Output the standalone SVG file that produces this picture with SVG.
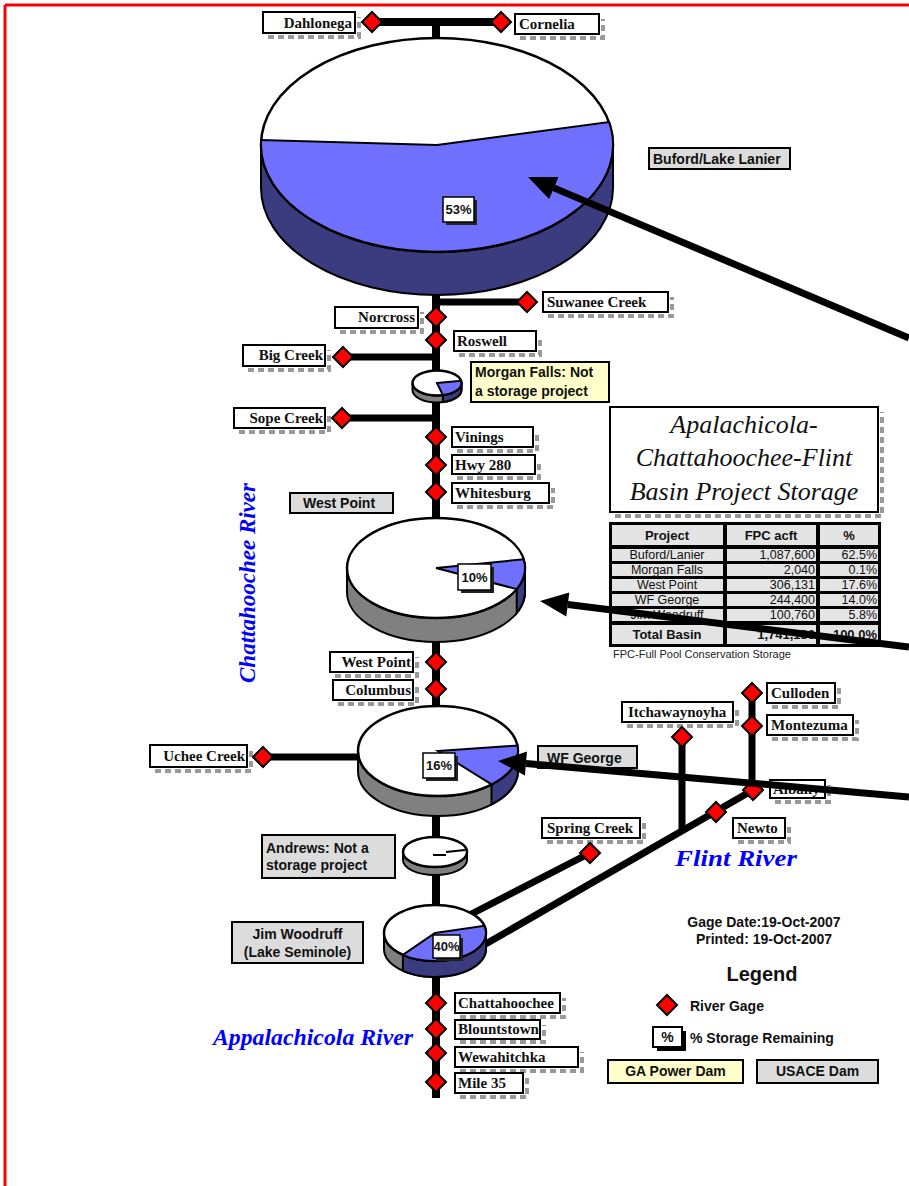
<svg xmlns="http://www.w3.org/2000/svg" xmlns:xlink="http://www.w3.org/1999/xlink" width="909" height="1186" viewBox="0 0 909 1186">
<style>
.lbl{fill:#fff;stroke:#000;stroke-width:2}
.shd{fill:none;stroke:#999;stroke-width:4;stroke-dasharray:6 4}
.dam{fill:#dcdcdc;stroke:#000;stroke-width:2}
.pw{fill:#ffffcc;stroke:#000;stroke-width:2}
.gt{font-family:"Liberation Serif","Times New Roman",serif;font-weight:bold;font-size:15px;fill:#111}
.st{font-family:"Liberation Sans",Arial,sans-serif;font-weight:bold;font-size:14px;fill:#111}
.riv{stroke:#000;stroke-width:8;fill:none}
.br{stroke:#000;stroke-width:7;fill:none}
.arr{stroke:#000;stroke-width:7;fill:none}
.ah{fill:#000}
.side{fill:#808080;stroke:#000;stroke-width:2}
.dside{fill:#3b3b80;stroke:#000;stroke-width:2}
.top{fill:#fff;stroke:#000;stroke-width:2.5}
.wedge{fill:#7070ff;stroke:#000;stroke-width:2}
.pbox{fill:#fff;stroke:#000;stroke-width:1.5}
.pshd{fill:#222}
.pt{font-family:"Liberation Sans",Arial,sans-serif;font-weight:bold;font-size:13px;fill:#111;text-anchor:middle}
.rn{font-family:"Liberation Serif","Times New Roman",serif;font-weight:bold;font-style:italic;fill:#0000ff}
.cell{fill:#e4e4e4;stroke:#000;stroke-width:1}
.tt{font-family:"Liberation Sans",Arial,sans-serif;font-size:12.5px;fill:#111}
.tb{font-family:"Liberation Sans",Arial,sans-serif;font-size:13px;font-weight:bold;fill:#111}
.title{font-family:"Liberation Serif","Times New Roman",serif;font-style:italic;font-size:26px;fill:#111;text-anchor:middle}
</style>
<defs>
<path id="dm" d="M0,-10 L10,0 L0,10 L-10,0 Z" fill="#ff0000" stroke="#000" stroke-width="2"/>
</defs>
<rect x="0" y="0" width="909" height="1186" fill="#fff"/>
<g id="border">
<line x1="5" y1="5" x2="909" y2="5" stroke="#ff0000" stroke-width="3"/>
<line x1="5" y1="5" x2="5" y2="1186" stroke="#ff0000" stroke-width="3"/>
</g>

<g id="connectors">
<path class="riv" d="M436,22 V1098"/>
<path class="riv" d="M372,22 H501"/>
<path class="br" d="M436,302 H527"/>
<path class="br" d="M343,357 H436"/>
<path class="br" d="M342,418 H436"/>
<path class="br" d="M263,757 H370"/>
<path class="br" d="M682,737 V831"/>
<path class="br" d="M752,693 V790"/>
<path class="br" d="M753,790 L470,953"/>
<path class="br" d="M590,853 L450,925"/>
</g>

<g id="river-names">
<text class="rn" font-size="24" transform="translate(255,583) rotate(-90)" text-anchor="middle" textLength="200" lengthAdjust="spacingAndGlyphs">Chattahoochee River</text>
<text class="rn" font-size="24" x="675" y="866" textLength="122" lengthAdjust="spacingAndGlyphs">Flint River</text>
<text class="rn" font-size="24" x="213" y="1045" textLength="200" lengthAdjust="spacingAndGlyphs">Appalachicola River</text>
</g>

<!-- Gages -->
<g id="g-dahlonega"><path class="shd" d="M268,37 H359 V17"/><rect class="lbl" x="263" y="12" width="92" height="21"/><text class="gt" x="352" y="28" text-anchor="end">Dahlonega</text><use xlink:href="#dm" x="372" y="22"/></g>
<g id="g-cornelia"><path class="shd" d="M520,38 H603 V19"/><rect class="lbl" x="515" y="14" width="84" height="20"/><text class="gt" x="519" y="29">Cornelia</text><use xlink:href="#dm" x="501" y="22"/></g>
<g id="g-suwanee"><path class="shd" d="M548,316 H672 V297"/><rect class="lbl" x="543" y="292" width="125" height="20"/><text class="gt" x="547" y="307">Suwanee Creek</text><use xlink:href="#dm" x="527" y="302"/></g>
<g id="g-norcross"><path class="shd" d="M340,332 H422 V312"/><rect class="lbl" x="335" y="307" width="83" height="21"/><text class="gt" x="415" y="322" text-anchor="end">Norcross</text><use xlink:href="#dm" x="436" y="317"/></g>
<g id="g-roswell"><path class="shd" d="M459,355 H540 V336"/><rect class="lbl" x="454" y="331" width="82" height="20"/><text class="gt" x="457" y="346">Roswell</text><use xlink:href="#dm" x="436" y="340"/></g>
<g id="g-bigcreek"><path class="shd" d="M248,370 H329 V350"/><rect class="lbl" x="243" y="345" width="82" height="21"/><text class="gt" x="323" y="360" text-anchor="end">Big Creek</text><use xlink:href="#dm" x="343" y="357"/></g>
<g id="g-sopecreek"><path class="shd" d="M239,432 H329 V413"/><rect class="lbl" x="234" y="408" width="91" height="20"/><text class="gt" x="323" y="423" text-anchor="end">Sope Creek</text><use xlink:href="#dm" x="342" y="418"/></g>
<g id="g-vinings"><path class="shd" d="M457,451 H537 V432"/><rect class="lbl" x="452" y="427" width="81" height="20"/><text class="gt" x="455" y="442">Vinings</text><use xlink:href="#dm" x="436" y="437"/></g>
<g id="g-hwy280"><path class="shd" d="M457,478 H539 V460"/><rect class="lbl" x="452" y="455" width="83" height="19"/><text class="gt" x="455" y="470">Hwy 280</text><use xlink:href="#dm" x="436" y="465"/></g>
<g id="g-whitesburg"><path class="shd" d="M457,507 H553 V488"/><rect class="lbl" x="452" y="483" width="97" height="20"/><text class="gt" x="455" y="498">Whitesburg</text><use xlink:href="#dm" x="436" y="492"/></g>
<g id="g-westpoint"><path class="shd" d="M335,676 H417 V657"/><rect class="lbl" x="330" y="652" width="83" height="20"/><text class="gt" x="411" y="667" text-anchor="end">West Point</text><use xlink:href="#dm" x="436" y="662"/></g>
<g id="g-columbus"><path class="shd" d="M338,704 H417 V685"/><rect class="lbl" x="333" y="680" width="80" height="20"/><text class="gt" x="411" y="695" text-anchor="end">Columbus</text><use xlink:href="#dm" x="436" y="689"/></g>
<g id="g-uchee"><path class="shd" d="M155,771 H251 V750"/><rect class="lbl" x="150" y="745" width="97" height="22"/><text class="gt" x="245" y="761" text-anchor="end">Uchee Creek</text><use xlink:href="#dm" x="263" y="757"/></g>
<g id="g-itchawaynoyha"><path class="shd" d="M627,726 H737 V707"/><rect class="lbl" x="622" y="702" width="111" height="20"/><text class="gt" x="628" y="717">Itchawaynoyha</text><use xlink:href="#dm" x="682" y="737"/></g>
<g id="g-culloden"><path class="shd" d="M772,707 H839 V688"/><rect class="lbl" x="767" y="683" width="68" height="20"/><text class="gt" x="771" y="698">Culloden</text><use xlink:href="#dm" x="752" y="693"/></g>
<g id="g-montezuma"><path class="shd" d="M772,739 H857 V720"/><rect class="lbl" x="767" y="715" width="86" height="20"/><text class="gt" x="771" y="730">Montezuma</text><use xlink:href="#dm" x="752" y="726"/></g>
<g id="g-albany"><path class="shd" d="M775,802 H829 V785"/><rect class="lbl" x="770" y="780" width="55" height="18"/><text class="gt" x="773" y="794">Albany</text><use xlink:href="#dm" x="753" y="790"/></g>
<g id="g-newton"><path class="shd" d="M738,842 H789 V823"/><rect class="lbl" x="733" y="818" width="52" height="20"/><text class="gt" x="737" y="833">Newto</text><use xlink:href="#dm" x="716" y="812"/></g>
<g id="g-springcreek"><path class="shd" d="M547,842 H644 V823"/><rect class="lbl" x="542" y="818" width="98" height="20"/><text class="gt" x="547" y="833">Spring Creek</text><use xlink:href="#dm" x="590" y="853"/></g>
<g id="g-chattahoochee"><path class="shd" d="M460,1017 H564 V998"/><rect class="lbl" x="455" y="993" width="105" height="20"/><text class="gt" x="458" y="1008">Chattahoochee</text><use xlink:href="#dm" x="436" y="1003"/></g>
<g id="g-blountstown"><path class="shd" d="M460,1042 H544 V1025"/><rect class="lbl" x="455" y="1020" width="85" height="19"/><text class="gt" x="458" y="1034">Blountstown</text><use xlink:href="#dm" x="436" y="1029"/></g>
<g id="g-wewahitchka"><path class="shd" d="M460,1071 H582 V1052"/><rect class="lbl" x="455" y="1047" width="123" height="20"/><text class="gt" x="458" y="1062">Wewahitchka</text><use xlink:href="#dm" x="436" y="1053"/></g>
<g id="g-mile35"><path class="shd" d="M460,1097 H527 V1078"/><rect class="lbl" x="455" y="1073" width="68" height="20"/><text class="gt" x="458" y="1088">Mile 35</text><use xlink:href="#dm" x="436" y="1082"/></g>

<!-- Dams -->
<g id="d-lanier">
<path class="dside" d="M261,145 A176,107 0 0 0 613,145 L613,188 A176,107 0 0 1 261,188 Z"/>
<ellipse class="top" cx="437" cy="145" rx="176" ry="107"/>
<path class="wedge" d="M437,145 L609,122 A176,107 0 1 1 261.2,140 Z"/>
<rect class="pshd" x="446" y="200" width="31" height="25"/><rect class="pbox" x="443" y="197" width="31" height="25"/><text class="pt" x="458.5" y="214">53%</text>
<rect class="dam" x="649" y="148" width="141" height="21"/><text class="st" x="653" y="164">Buford/Lake Lanier</text>
</g>
<g id="d-morganfalls">
<path class="side" d="M412.5,383 A24.5,12.5 0 0 0 461.5,383 L461.5,390 A24.5,12.5 0 0 1 412.5,390 Z"/>
<path class="dside" d="M461.5,383 A24.5,12.5 0 0 1 442.9,395.1 L442.9,402.1 A24.5,12.5 0 0 0 461.5,390 Z"/>
<ellipse class="top" cx="437" cy="383" rx="24.5" ry="12.5"/>
<path class="wedge" d="M437,383 L461.1,380.8 A24.5,12.5 0 0 1 442.9,395.1 Z"/>
<rect class="pw" x="471" y="362" width="138" height="40"/><text class="st" x="475" y="377">Morgan Falls: Not</text><text class="st" x="475" y="396">a storage project</text>
</g>
<g id="d-westpoint">
<path class="side" d="M347,568 A89,50 0 0 0 525,568 L525,592 A89,50 0 0 1 347,592 Z"/>
<path class="dside" d="M525,568 A89,50 0 0 1 516.7,589.1 L516.7,613.1 A89,50 0 0 0 525,592 Z"/>
<ellipse class="top" cx="436" cy="568" rx="89" ry="50"/>
<path class="wedge" d="M436,568 L523.6,559.3 A89,50 0 0 1 516.7,589.1 Z"/>
<rect class="pshd" x="461" y="567" width="33" height="26"/><rect class="pbox" x="458" y="564" width="33" height="26"/><text class="pt" x="474.5" y="582">10%</text>
<rect class="dam" x="290" y="493" width="103" height="20"/><text class="st" x="303" y="508">West Point</text>
</g>
<g id="d-wfgeorge">
<path class="side" d="M358,751 A80,45 0 0 0 518,751 L518,771 A80,45 0 0 1 358,771 Z"/>
<path class="dside" d="M518,751 A80,45 0 0 1 491.5,784.4 L491.5,804.4 A80,45 0 0 0 518,771 Z"/>
<ellipse class="top" cx="438" cy="751" rx="80" ry="45"/>
<path class="wedge" d="M438,751 L517.4,745.5 A80,45 0 0 1 491.5,784.4 Z"/>
<rect class="pshd" x="426" y="756" width="32" height="25"/><rect class="pbox" x="423" y="753" width="32" height="25"/><text class="pt" x="439" y="770">16%</text>
<rect class="dam" x="538" y="746" width="99" height="22"/><text class="st" x="547" y="763">WF George</text>
</g>
<g id="d-andrews">
<path class="side" d="M403,852 A32,15 0 0 0 467,852 L467,860 A32,15 0 0 1 403,860 Z"/>
<ellipse class="top" cx="435" cy="852" rx="32" ry="15"/>
<path d="M433,855 L446,855 M446,852 L465,850" stroke="#000" stroke-width="2" fill="none"/>
<rect class="dam" x="262" y="835" width="133" height="43"/><text class="st" x="266" y="853">Andrews: Not a</text><text class="st" x="266" y="870">storage project</text>
</g>
<g id="d-jimwoodruff">
<path class="side" d="M384,933 A51,28 0 0 0 486,933 L486,949 A51,28 0 0 1 384,949 Z"/>
<path class="dside" d="M486,933 A51,28 0 0 1 402.9,954.8 L402.9,970.8 A51,28 0 0 0 486,949 Z"/>
<ellipse class="top" cx="435" cy="933" rx="51" ry="28"/>
<path class="wedge" d="M435,933 L484.3,925.8 A51,28 0 0 1 402.9,954.8 Z"/>
<rect class="pshd" x="436" y="938" width="27" height="23"/><rect class="pbox" x="433" y="935" width="27" height="23"/><text class="pt" x="446.5" y="951">40%</text>
<rect class="dam" x="232" y="922" width="131" height="41"/><text class="st" x="297.5" y="939" text-anchor="middle">Jim Woodruff</text><text class="st" x="297.5" y="957" text-anchor="middle">(Lake Seminole)</text>
</g>

<!-- Title & table -->
<g id="title">
<path class="shd" d="M615,516 H882 V412"/>
<rect x="610" y="407" width="268" height="105" fill="#fff" stroke="#000" stroke-width="2"/>
<text class="title" x="744" y="433">Apalachicola-</text>
<text class="title" x="744" y="466">Chattahoochee-Flint</text>
<text class="title" x="744" y="500">Basin Project Storage</text>
</g>
<g id="table">
<rect x="609" y="522" width="272" height="125" fill="#000"/>
<rect class="cell" x="611.5" y="524.5" width="112" height="21"/><rect class="cell" x="726.5" y="524.5" width="90" height="21"/><rect class="cell" x="819.5" y="524.5" width="59" height="21"/>
<rect class="cell" x="611.5" y="548.5" width="112" height="13"/><rect class="cell" x="726.5" y="548.5" width="90" height="13"/><rect class="cell" x="819.5" y="548.5" width="59" height="13"/>
<rect class="cell" x="611.5" y="563.5" width="112" height="13"/><rect class="cell" x="726.5" y="563.5" width="90" height="13"/><rect class="cell" x="819.5" y="563.5" width="59" height="13"/>
<rect class="cell" x="611.5" y="578.5" width="112" height="13"/><rect class="cell" x="726.5" y="578.5" width="90" height="13"/><rect class="cell" x="819.5" y="578.5" width="59" height="13"/>
<rect class="cell" x="611.5" y="593.5" width="112" height="13"/><rect class="cell" x="726.5" y="593.5" width="90" height="13"/><rect class="cell" x="819.5" y="593.5" width="59" height="13"/>
<rect class="cell" x="611.5" y="608.5" width="112" height="13"/><rect class="cell" x="726.5" y="608.5" width="90" height="13"/><rect class="cell" x="819.5" y="608.5" width="59" height="13"/>
<rect class="cell" x="611.5" y="624.5" width="112" height="20"/><rect class="cell" x="726.5" y="624.5" width="90" height="20"/><rect class="cell" x="819.5" y="624.5" width="59" height="20"/>
<text class="tb" x="667" y="540" text-anchor="middle">Project</text><text class="tb" x="771" y="540" text-anchor="middle">FPC acft</text><text class="tb" x="849" y="540" text-anchor="middle">%</text>
<text class="tt" x="667" y="559" text-anchor="middle">Buford/Lanier</text><text class="tt" x="815" y="559" text-anchor="end">1,087,600</text><text class="tt" x="877" y="559" text-anchor="end">62.5%</text>
<text class="tt" x="667" y="574" text-anchor="middle">Morgan Falls</text><text class="tt" x="815" y="574" text-anchor="end">2,040</text><text class="tt" x="877" y="574" text-anchor="end">0.1%</text>
<text class="tt" x="667" y="589" text-anchor="middle">West Point</text><text class="tt" x="815" y="589" text-anchor="end">306,131</text><text class="tt" x="877" y="589" text-anchor="end">17.6%</text>
<text class="tt" x="667" y="604" text-anchor="middle">WF George</text><text class="tt" x="815" y="604" text-anchor="end">244,400</text><text class="tt" x="877" y="604" text-anchor="end">14.0%</text>
<text class="tt" x="667" y="619" text-anchor="middle">Jim Woodruff</text><text class="tt" x="815" y="619" text-anchor="end">100,760</text><text class="tt" x="877" y="619" text-anchor="end">5.8%</text>
<text class="tb" x="667" y="639" text-anchor="middle">Total Basin</text><text class="tb" x="815" y="639" text-anchor="end">1,741,130</text><text class="tb" x="877" y="639" text-anchor="end">100.0%</text>
<text x="613" y="658" font-family="Liberation Sans, Arial, sans-serif" font-size="11" fill="#222">FPC-Full Pool Conservation Storage</text>
</g>

<g id="dates">
<text class="st" x="764" y="927" text-anchor="middle" font-size="13.5">Gage Date:19-Oct-2007</text>
<text class="st" x="764" y="944" text-anchor="middle" font-size="13.5">Printed: 19-Oct-2007</text>
</g>
<g id="legend">
<text x="762" y="981" text-anchor="middle" font-family="Liberation Sans, Arial, sans-serif" font-weight="bold" font-size="20" fill="#111">Legend</text>
<use xlink:href="#dm" x="667" y="1005"/>
<text class="st" x="690" y="1011">River Gage</text>
<rect x="657" y="1031" width="29" height="20" fill="#000"/>
<rect x="653" y="1027" width="29" height="20" fill="#fff" stroke="#000" stroke-width="2"/>
<text class="st" x="667.5" y="1042" text-anchor="middle">%</text>
<text class="st" x="690" y="1043">% Storage Remaining</text>
<rect class="pw" x="608" y="1060" width="135" height="23"/><text class="st" x="675.5" y="1076" text-anchor="middle">GA Power Dam</text>
<rect class="dam" x="757" y="1060" width="121" height="23"/><text class="st" x="817.5" y="1076" text-anchor="middle">USACE Dam</text>
</g>

<g id="arrows">
<path class="arr" d="M909,338 L553.8,187.9"/><polygon class="ah" points="528,177 558.5,176.9 549.1,198.9"/>
<path class="arr" d="M909,647 L567.8,604.5"/><polygon class="ah" points="540,601 569.3,592.6 566.3,616.4"/>
<path class="arr" d="M909,797 L525.9,763.4"/><polygon class="ah" points="498,761 527,751.5 524.9,775.4"/>
</g>
</svg>
